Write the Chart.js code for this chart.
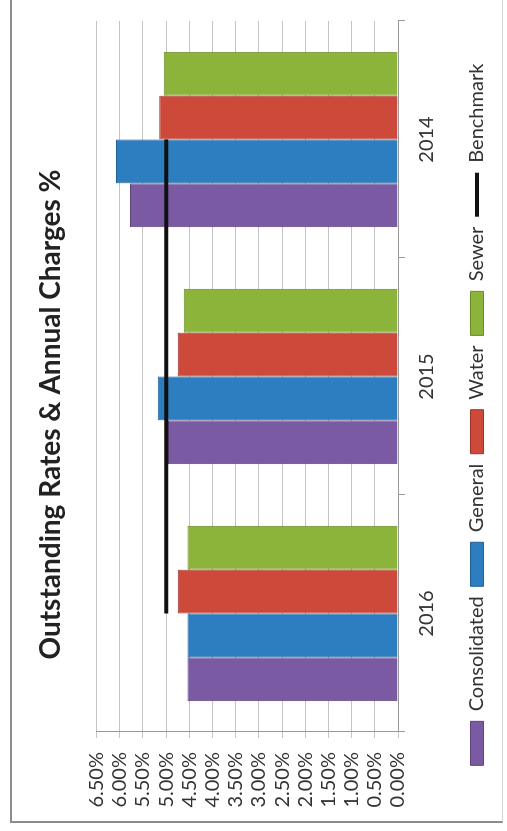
<!DOCTYPE html>
<html><head><meta charset="utf-8">
<script src="https://cdn.jsdelivr.net/npm/chart.js@4.4.1/dist/chart.umd.min.js"></script>
<style>
html,body{margin:0;padding:0;background:#fff;overflow:hidden;width:507px;height:831px;}
#rot{position:absolute;left:0;top:0;width:848px;height:507px;transform-origin:0 0;transform:translate(0,831px) rotate(-90deg);}
#frame{position:absolute;left:8px;top:10px;width:900px;height:493px;box-sizing:border-box;border-top:2px solid #8c8c8c;border-left:2px solid #8c8c8c;border-bottom:1px solid #d4d4d4;}
#c{position:absolute;left:0;top:0;}
</style></head><body>
<div id="rot"><div id="frame"></div><canvas id="c" width="848" height="507"></canvas></div>
<script>
const title = 'Outstanding Rates & Annual Charges %';
const categories = ['2016', '2015', '2014'];
const consolidated = [4.54, 4.96, 5.78];
const general = [4.54, 5.18, 6.08];
const water = [4.75, 4.75, 5.15];
const sewer = [4.54, 4.62, 5.05];
const benchmark = [5.0, 5.0, 5.0];
const tickLabels = ['0.00%','0.50%','1.00%','1.50%','2.00%','2.50%','3.00%','3.50%','4.00%','4.50%','5.00%','5.50%','6.00%','6.50%'];

const FONT = 'Lato';
const bar = (label, data, bg, bd) => ({
  type: 'bar', label, data, backgroundColor: bg, borderColor: bd, borderWidth: 1,
  categoryPercentage: 0.74, barPercentage: 1.0, order: 0
});

new Chart(document.getElementById('c'), {
  data: {
    labels: categories,
    datasets: [
      bar('Consolidated', consolidated, '#7a5aa2', '#5e437f'),
      bar('General', general, '#2c7ec0', '#1f5f94'),
      bar('Water', water, '#cd4a3b', '#9e3428'),
      bar('Sewer', sewer, '#8cb43a', '#6a8a26'),
      { type: 'line', label: 'Benchmark', data: benchmark, borderColor: '#111', backgroundColor: '#111',
        borderWidth: 4, pointRadius: 0, fill: false, order: -1 }
    ]
  },
  options: {
    responsive: false, animation: false,
    layout: { padding: { left: 23, right: 38, top: 0, bottom: 10 } },
    plugins: {
      tooltip: { enabled: false },
      title: { display: true, text: title, color: '#222',
        font: { family: FONT, size: 28, weight: 'bold' }, padding: { top: 34, bottom: 29 } },
      legend: { position: 'bottom',
        labels: {
          usePointStyle: true, pointStyleWidth: 44, boxHeight: 13, padding: 10,
          color: '#333', font: { family: FONT, size: 20 },
          sort: (a, b) => a.datasetIndex - b.datasetIndex,
          generateLabels(chart) {
            const items = Chart.defaults.plugins.legend.labels.generateLabels(chart);
            items.forEach(it => {
              if (it.datasetIndex === 4) { it.pointStyle = 'line'; it.lineWidth = 4; it.strokeStyle = '#111'; }
              else { it.pointStyle = 'rect'; it.lineWidth = 1; }
            });
            return items;
          }
        }
      }
    },
    scales: {
      x: { type: 'category', offset: true,
        grid: { offset: true, drawOnChartArea: false, drawTicks: true, tickLength: 7, color: '#999' },
        border: { display: true, color: '#999' },
        ticks: { font: { family: FONT, size: 20 }, color: '#333', padding: 10 },
        afterFit(s) { s.height = 59; } },
      y: { min: 0, max: 6.5,
        ticks: { stepSize: 0.5, autoSkip: false, font: { family: FONT, size: 20, lineHeight: 1 }, color: '#333', padding: 14,
          callback: (v, i) => tickLabels[i] },
        grid: { color: '#c4c4c4', tickLength: 6, drawTicks: true },
        border: { display: true, color: '#999' },
        afterFit(s) { s.width = 76; } }
    }
  }
});
</script>
</body></html>
